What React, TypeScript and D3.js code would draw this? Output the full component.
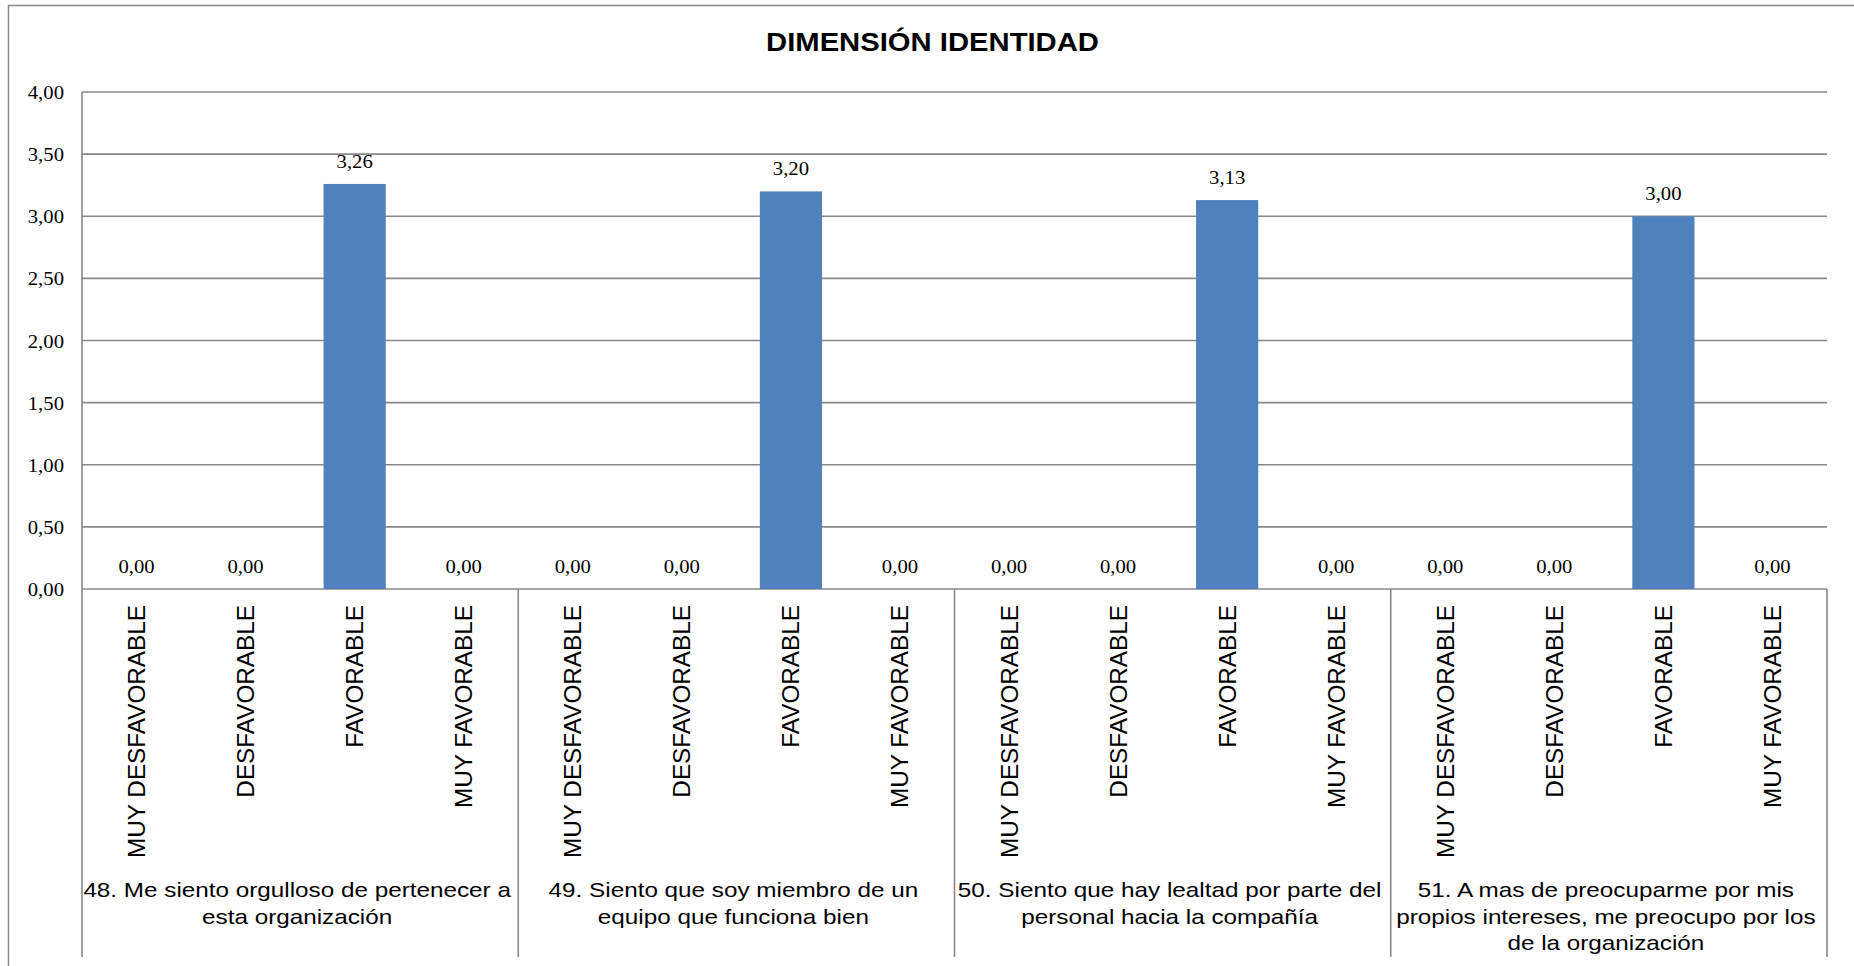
import React from "react";
import * as d3 from "d3";

// Response scale shown under every bar
const responses = ["MUY DESFAVORABLE", "DESFAVORABLE", "FAVORABLE", "MUY FAVORABLE"];

// Survey items (pre-broken into display lines)
const questions: string[][] = [
  ["48. Me siento orgulloso de pertenecer a", "esta organización"],
  ["49. Siento que soy miembro de un", "equipo que funciona bien"],
  ["50. Siento que hay lealtad por parte del", "personal hacia la compañía"],
  ["51. A mas de preocuparme por mis", "propios intereses, me preocupo por los", "de la organización"],
];

// Mean score per response, one array per item
const q48 = [0.0, 0.0, 3.26, 0.0];
const q49 = [0.0, 0.0, 3.2, 0.0];
const q50 = [0.0, 0.0, 3.13, 0.0];
const q51 = [0.0, 0.0, 3.0, 0.0];
const seriesValues = [q48, q49, q50, q51];

const yTicks = [0, 0.5, 1, 1.5, 2, 2.5, 3, 3.5, 4];
const title = "DIMENSIÓN IDENTIDAD";

const W = 1854;
const H = 966;
const plot = { left: 82, right: 1827, top: 92, bottom: 589 };

const esLocale = d3.formatLocale({ decimal: ",", thousands: ".", grouping: [3], currency: ["", "€"] });
const fmt = esLocale.format(".2f");

const SANS = "Arial, 'Liberation Sans', Helvetica, sans-serif";
const SERIF = "'Times New Roman', 'Liberation Serif', serif";
const GRID = "#898989";

export default function App() {
  const rows = seriesValues.flatMap((vals, qi) =>
    vals.map((v, ri) => ({ key: `${qi}-${ri}`, qi, ri, value: v }))
  );

  const x = d3
    .scaleBand<string>()
    .domain(rows.map((r) => r.key))
    .range([plot.left, plot.right])
    .paddingInner(0)
    .paddingOuter(0);
  const bw = x.bandwidth();
  const barW = bw * 0.57;

  const y = d3.scaleLinear().domain([0, 4]).range([plot.bottom, plot.top]);

  const groupEdges = d3.range(questions.length + 1).map((i) => plot.left + i * bw * responses.length);
  const sepBottom = 957;

  const stretch = (px: number, py: number, sx: number) => `translate(${px},${py}) scale(${sx},1)`;

  return (
    <svg
      width={W}
      height={H}
      style={{ position: "absolute", left: 0, top: 0, background: "#fff" }}
    >
      {/* chart frame */}
      <rect x={8.5} y={5.5} width={W + 10} height={H + 10} fill="#fff" stroke="#8a8a8a" strokeWidth={1.5} />

      {/* title */}
      <text
        transform={stretch((plot.left + plot.right) / 2 - 22, 51, 1.17)}
        textAnchor="middle"
        fontFamily={SANS}
        fontWeight="bold"
        fontSize={25}
        fill="#000"
      >
        {title}
      </text>

      {/* gridlines and y tick labels */}
      {yTicks.map((t) => (
        <g key={t}>
          <line
            x1={plot.left}
            x2={plot.right}
            y1={y(t)}
            y2={y(t)}
            stroke={GRID}
            strokeWidth={1.6}
          />
          <text
            transform={stretch(64, y(t) + 7, 1.12)}
            textAnchor="end"
            fontFamily={SERIF}
            fontSize={18.5}
            fill="#000"
          >
            {fmt(t)}
          </text>
        </g>
      ))}

      {/* bars */}
      {rows.map((r) => {
        const cx = (x(r.key) as number) + bw / 2;
        return (
          <rect
            key={r.key}
            x={cx - barW / 2}
            y={y(r.value)}
            width={barW}
            height={y(0) - y(r.value)}
            fill="#4F81BD"
          />
        );
      })}

      {/* value labels */}
      {rows.map((r) => {
        const cx = (x(r.key) as number) + bw / 2;
        return (
          <text
            key={`v-${r.key}`}
            transform={stretch(cx, y(r.value) - 16, 1.12)}
            textAnchor="middle"
            fontFamily={SERIF}
            fontSize={18.5}
            fill="#000"
          >
            {fmt(r.value)}
          </text>
        );
      })}

      {/* y axis extended through the category area, and group separators */}
      <line x1={plot.left} x2={plot.left} y1={plot.top} y2={sepBottom} stroke={GRID} strokeWidth={1.6} />
      {groupEdges.slice(1).map((gx, i) => (
        <line key={`sep-${i}`} x1={gx} x2={gx} y1={plot.bottom} y2={sepBottom} stroke={GRID} strokeWidth={1.6} />
      ))}

      {/* rotated response labels */}
      {rows.map((r) => {
        const cx = (x(r.key) as number) + bw / 2;
        return (
          <text
            key={`c-${r.key}`}
            transform={`translate(${cx},605) rotate(-90)`}
            textAnchor="end"
            dominantBaseline="central"
            fontFamily={SANS}
            fontSize={24.3}
            fill="#000"
          >
            {responses[r.ri]}
          </text>
        );
      })}

      {/* item labels */}
      {questions.map((lines, qi) => {
        const cx = (groupEdges[qi] + groupEdges[qi + 1]) / 2 - 3;
        return lines.map((ln, li) => (
          <text
            key={`q-${qi}-${li}`}
            transform={stretch(cx, 897 + li * 26.5, 1.19)}
            textAnchor="middle"
            fontFamily={SANS}
            fontSize={20.4}
            fill="#000"
          >
            {ln}
          </text>
        ));
      })}
    </svg>
  );
}
